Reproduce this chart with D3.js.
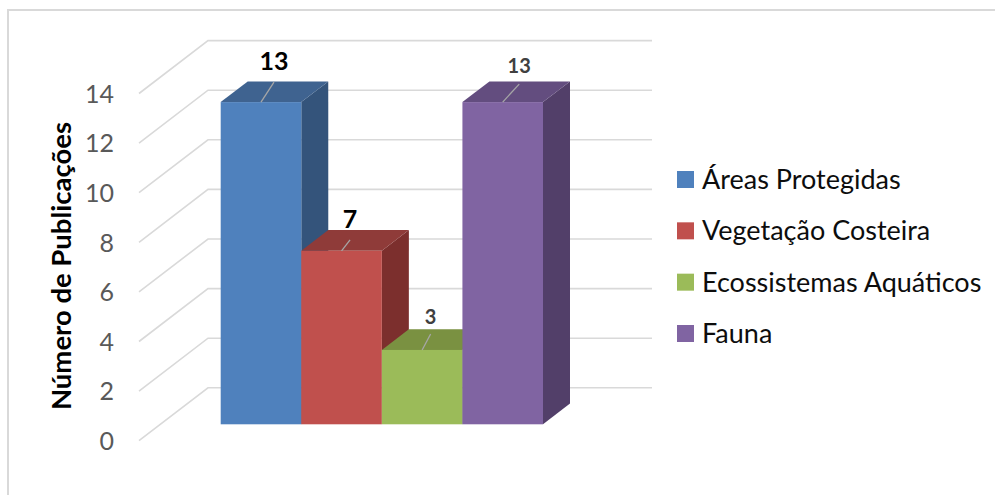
<!DOCTYPE html>
<html>
<head>
<meta charset="utf-8">
<script src="https://cdn.jsdelivr.net/npm/d3@7"></script>
<style>
body{margin:0;background:#fff;overflow:hidden}
text{font-family:Lato,"Open Sans",sans-serif}
</style>
</head>
<body>
<svg id="chart" width="995" height="495"></svg>
<script>
const categories = ["Áreas Protegidas","Vegetação Costeira","Ecossistemas Aquáticos","Fauna"];
const values = [13,7,3,13];
const yTicks = [0,2,4,6,8,10,12,14];
const frontColors = ["#4f81bd","#c0504d","#9bbb59","#8064a2"];
const topColors = ["#3f6390","#8f3b39","#7a9141","#634d7f"];
const sideColors = ["#34547b","#7c2f2d","#66793a","#523f69"];
const labelColors = ["#000","#000","#404040","#404040"];
const labelSizes = [25,25,20,20];

const svg = d3.select("#chart");
const dx = 27, dy = 20.7;   // depth of the bars
const wallDx = 69, wallDy = 52.9; // depth of the side wall

const yBar = d3.scaleLinear().domain([0,14]).range([424.3,77.3]);
const yFront = d3.scaleLinear().domain([0,14]).range([440.7,93.5]);
const x = d3.scaleBand().domain(categories).range([220.7,543]);

// frame
svg.append("path").attr("d","M8,495V10H995")
	.attr("fill","none").attr("stroke","#d9d9d9").attr("stroke-width",2);

// grid, floor side then back wall
const xFront = 139, xRight = 652;
svg.append("g").selectAll("path").data(yTicks).enter().append("path")
	.attr("d",d=>`M${xFront},${yFront(d)}L${xFront+wallDx},${yFront(d)-wallDy}H${xRight}`)
	.attr("fill","none").attr("stroke","#d9d9d9").attr("stroke-width",1.6);

// value axis
const axis = svg.append("g").attr("transform","translate(114,0)")
	.call(d3.axisLeft(yFront).tickValues(yTicks).tickSize(0).tickPadding(0));
axis.select(".domain").remove();
axis.selectAll("text").attr("font-size",25).attr("fill","#595959")
	.style("font-family","Lato,sans-serif").attr("dy","0.35em");

svg.append("text")
	.attr("transform","translate(71,266) rotate(-90)")
	.attr("text-anchor","middle").attr("font-size",27.5).attr("font-weight","bold").attr("fill","#000")
	.text("Número de Publicações");

// bars
const bars = svg.append("g").selectAll("g").data(categories).enter().append("g");
const bw = x.bandwidth();
bars.append("path").attr("fill",(d,i)=>sideColors[i])
	.attr("d",(d,i)=>{
		const r = x(d)+bw;
		return `M${r},${yBar(values[i])}l${dx},${-dy}V${yBar(0)-dy}l${-dx},${dy}Z`;
	});
bars.append("path").attr("fill",(d,i)=>topColors[i])
	.attr("d",(d,i)=>`M${x(d)},${yBar(values[i])}l${dx},${-dy}h${bw}l${-dx},${dy}Z`);
bars.append("rect").attr("fill",(d,i)=>frontColors[i])
	.attr("x",d=>x(d)).attr("width",bw)
	.attr("y",(d,i)=>yBar(values[i])).attr("height",(d,i)=>yBar(0)-yBar(values[i]));

// leader lines and value labels
const labelOffset = [41,32,33,36];
const leaderRise = [20,11,16,18];
const leaderRun = [13,8.5,8.5,16.5];
bars.append("line").attr("stroke","#a6a6a6").attr("stroke-width",1.3)
	.attr("x1",d=>x(d)+bw/2).attr("y1",(d,i)=>yBar(values[i]))
	.attr("x2",(d,i)=>x(d)+bw/2+leaderRun[i]).attr("y2",(d,i)=>yBar(values[i])-leaderRise[i]);
bars.append("text")
	.attr("x",(d,i)=>x(d)+bw/2+leaderRun[i])
	.attr("y",(d,i)=>yBar(values[i])-labelOffset[i])
	.attr("dy","0.35em").attr("text-anchor","middle")
	.attr("font-weight","bold").attr("font-size",(d,i)=>labelSizes[i]).attr("fill",(d,i)=>labelColors[i])
	.text((d,i)=>values[i]);

// legend
const yLegend = d3.scalePoint().domain(categories).range([179.5,333.5]);
const legend = svg.append("g").selectAll("g").data(categories).enter().append("g")
	.attr("transform",d=>`translate(677,${yLegend(d)})`);
legend.append("rect").attr("y",-8.5).attr("width",17).attr("height",17).attr("fill",(d,i)=>frontColors[i]);
legend.append("text").attr("x",25).attr("dy","0.35em").attr("font-size",27).attr("fill","#0d0d0d").text(d=>d);
</script>
</body>
</html>
